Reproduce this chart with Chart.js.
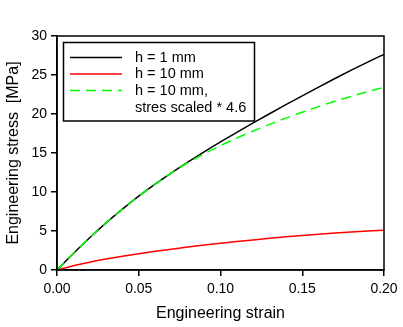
<!DOCTYPE html>
<html>
<head>
<meta charset="UTF-8">
<script src="https://cdn.jsdelivr.net/npm/chart.js"></script>
<style>
  * { margin: 0; padding: 0; }
  body { background: #fff; }
  #wrap { width: 403px; height: 327px; }
</style>
</head>
<body>
<div id="wrap"><canvas id="c" width="403" height="327"></canvas></div>
<script>
// strain values (x)
const strain = [0, 0.01, 0.02, 0.03, 0.04, 0.05, 0.06, 0.07, 0.08, 0.09, 0.10,
                0.11, 0.12, 0.13, 0.14, 0.15, 0.16, 0.17, 0.18, 0.19, 0.20];
// h = 1 mm
const stressH1 = [0, 2.12, 4.14, 6.04, 7.81, 9.46, 11.0, 12.45, 13.83, 15.15, 16.42,
                  17.65, 18.85, 20.03, 21.19, 22.33, 23.45, 24.55, 25.62, 26.65, 27.65];
// h = 10 mm
const stressH10 = [0, 0.55, 1.0, 1.4, 1.76, 2.09, 2.39, 2.67, 2.94, 3.19, 3.43,
                   3.65, 3.86, 4.06, 4.25, 4.43, 4.59, 4.74, 4.88, 5.0, 5.11];
// h = 10 mm, stress scaled * 4.6
const stressScaled = [0, 2.12, 4.14, 6.04, 7.81, 9.46, 11.0, 12.45, 13.75, 14.9, 15.95,
                      16.92, 17.82, 18.67, 19.47, 20.23, 20.95, 21.63, 22.27, 22.87, 23.43];

const xTicks = [0, 0.05, 0.10, 0.15, 0.20];
const yTicks = [0, 5, 10, 15, 20, 25, 30];

const legendItems = [
  { label: ['h = 1 mm'], color: '#000000', dash: [] },
  { label: ['h = 10 mm'], color: '#ff0000', dash: [] },
  { label: ['h = 10 mm,', 'stres scaled * 4.6'], color: '#00ff00', dash: [10, 6] }
];

function pts(ys) {
  return strain.map((x, i) => ({ x: x, y: ys[i] }));
}

const font = 'Arial, "Liberation Sans", sans-serif';

// frame around the plot area + legend box inside it
const framePlugin = {
  id: 'frame',
  afterDraw(chart) {
    const ctx = chart.ctx;
    const a = chart.chartArea;
    ctx.save();
    ctx.strokeStyle = '#000';
    ctx.lineWidth = 1.5;
    ctx.strokeRect(a.left, a.top, a.right - a.left, a.bottom - a.top);

    // legend
    const bx = 63.5, by = 42.5, bw = 191, bh = 78.5;
    ctx.fillStyle = '#fff';
    ctx.fillRect(bx, by, bw, bh);
    ctx.strokeRect(bx, by, bw, bh);
    ctx.font = '14.5px ' + font;
    ctx.textBaseline = 'middle';
    let y = 57.5;
    legendItems.forEach(it => {
      ctx.beginPath();
      ctx.strokeStyle = it.color;
      ctx.lineWidth = 1.5;
      ctx.setLineDash(it.dash);
      ctx.moveTo(70, y);
      ctx.lineTo(122, y);
      ctx.stroke();
      ctx.setLineDash([]);
      ctx.fillStyle = '#000';
      it.label.forEach((t, k) => {
        ctx.fillText(t, 135, y + k * 17);
      });
      y += 16.5 * it.label.length;
    });
    ctx.restore();
  }
};

new Chart(document.getElementById('c'), {
  type: 'scatter',
  data: {
    datasets: [
      { data: pts(stressH1), borderColor: '#000000', borderWidth: 1.5, order: 2 },
      { data: pts(stressH10), borderColor: '#ff0000', borderWidth: 1.5, order: 1 },
      { data: pts(stressScaled), borderColor: '#00ff00', borderWidth: 1.5, borderDash: [10, 6], order: 0 }
    ]
  },
  options: {
    responsive: false,
    animation: false,
    showLine: true,
    layout: { padding: { left: 0, right: 19, top: 36, bottom: 0 } },
    elements: {
      point: { radius: 0 },
      line: { cubicInterpolationMode: 'monotone', fill: false }
    },
    plugins: { legend: { display: false }, tooltip: { enabled: false } },
    scales: {
      x: {
        type: 'linear',
        min: 0, max: 0.2,
        afterFit(s) { s.height = 57; },
        afterBuildTicks(s) { s.ticks = xTicks.map(v => ({ value: v })); },
        grid: { drawOnChartArea: false, tickLength: 6, color: '#000', lineWidth: 1.5 },
        border: { color: '#000', width: 1.5 },
        ticks: {
          color: '#000', padding: 5,
          font: { family: font, size: 14 },
          callback: v => v.toFixed(2)
        },
        title: {
          display: true, text: 'Engineering strain', color: '#000',
          font: { family: font, size: 16 }, padding: { top: 4, bottom: 4 }
        }
      },
      y: {
        min: 0, max: 30,
        afterFit(s) { s.width = 57; },
        afterBuildTicks(s) { s.ticks = yTicks.map(v => ({ value: v })); },
        grid: { drawOnChartArea: false, tickLength: 6, color: '#000', lineWidth: 1.5 },
        border: { color: '#000', width: 1.5 },
        ticks: {
          color: '#000', padding: 4,
          font: { family: font, size: 14 }
        },
        title: {
          display: true, text: 'Engineering stress  [MPa]', color: '#000',
          font: { family: font, size: 16 }, padding: { top: 4, bottom: 0 }
        }
      }
    }
  },
  plugins: [framePlugin]
});
</script>
</body>
</html>
